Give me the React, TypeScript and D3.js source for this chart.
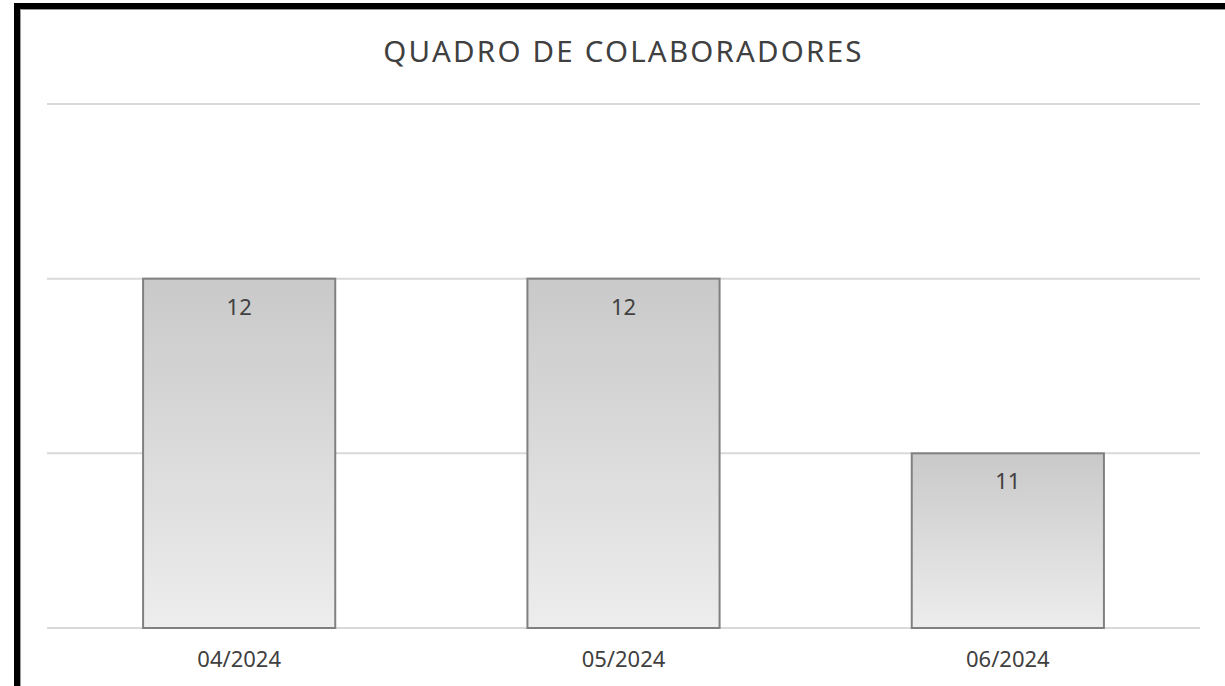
import React from "react";
import * as d3 from "d3";

// Dados do gráfico
const months = ["04/2024", "05/2024", "06/2024"];
const headcount = [12, 12, 11];
const yTicks = [10, 11, 12, 13];

const W = 1225;
const H = 686;
const margin = { top: 104, right: 25, bottom: 58, left: 47 };
const font = "'Noto Sans', sans-serif";
const textColor = "#404040";

export default function App() {
  const x = d3
    .scaleBand<string>()
    .domain(months)
    .range([margin.left, W - margin.right])
    .padding(0);

  const y = d3
    .scaleLinear()
    .domain([10, 13])
    .range([H - margin.bottom, margin.top]);

  // Excel: largura do espaçamento 100% -> barra ocupa metade da categoria
  const barW = x.bandwidth() * 0.5;

  return (
    <svg
      width={W}
      height={H}
      style={{ position: "absolute", left: 0, top: 0, background: "#fff" }}
    >
      <defs>
        <linearGradient id="barFill" x1="0" y1="0" x2="0" y2="1">
          <stop offset="0%" stopColor="#c9c9c9" />
          <stop offset="100%" stopColor="#ededed" />
        </linearGradient>
      </defs>

      {/* moldura */}
      <rect x={14} y={3} width={W - 14} height={6} fill="#000" />
      <rect x={14} y={3} width={6} height={H - 3} fill="#000" />
      <line x1={20} x2={W} y1={9.5} y2={9.5} stroke="#9a9a9a" strokeWidth={1} />
      <line x1={20.5} x2={20.5} y1={9} y2={H} stroke="#9a9a9a" strokeWidth={1} />

      {/* título */}
      <text
        x={(margin.left + W - margin.right) / 2}
        y={62}
        textAnchor="middle"
        fontFamily={font}
        fontSize={29.5}
        letterSpacing={2.2}
        fill={textColor}
      >
        QUADRO DE COLABORADORES
      </text>

      {/* linhas de grade */}
      {yTicks.map((t) => (
        <line
          key={t}
          x1={margin.left}
          x2={W - margin.right}
          y1={y(t)}
          y2={y(t)}
          stroke="#d9d9d9"
          strokeWidth={2}
        />
      ))}

      {/* barras */}
      {months.map((m, i) => {
        const bx = (x(m) as number) + (x.bandwidth() - barW) / 2;
        return (
          <g key={m}>
            <rect
              x={bx}
              y={y(headcount[i])}
              width={barW}
              height={y(10) - y(headcount[i])}
              fill="url(#barFill)"
              stroke="#808080"
              strokeWidth={2}
            />
            <text
              x={bx + barW / 2}
              y={y(headcount[i]) + 36}
              textAnchor="middle"
              fontFamily={font}
              fontSize={22}
              fill={textColor}
            >
              {headcount[i]}
            </text>
          </g>
        );
      })}

      {/* eixo X */}
      {months.map((m) => (
        <text
          key={m}
          x={(x(m) as number) + x.bandwidth() / 2}
          y={H - margin.bottom + 39}
          textAnchor="middle"
          fontFamily={font}
          fontSize={22}
          fill={textColor}
        >
          {m}
        </text>
      ))}
    </svg>
  );
}
